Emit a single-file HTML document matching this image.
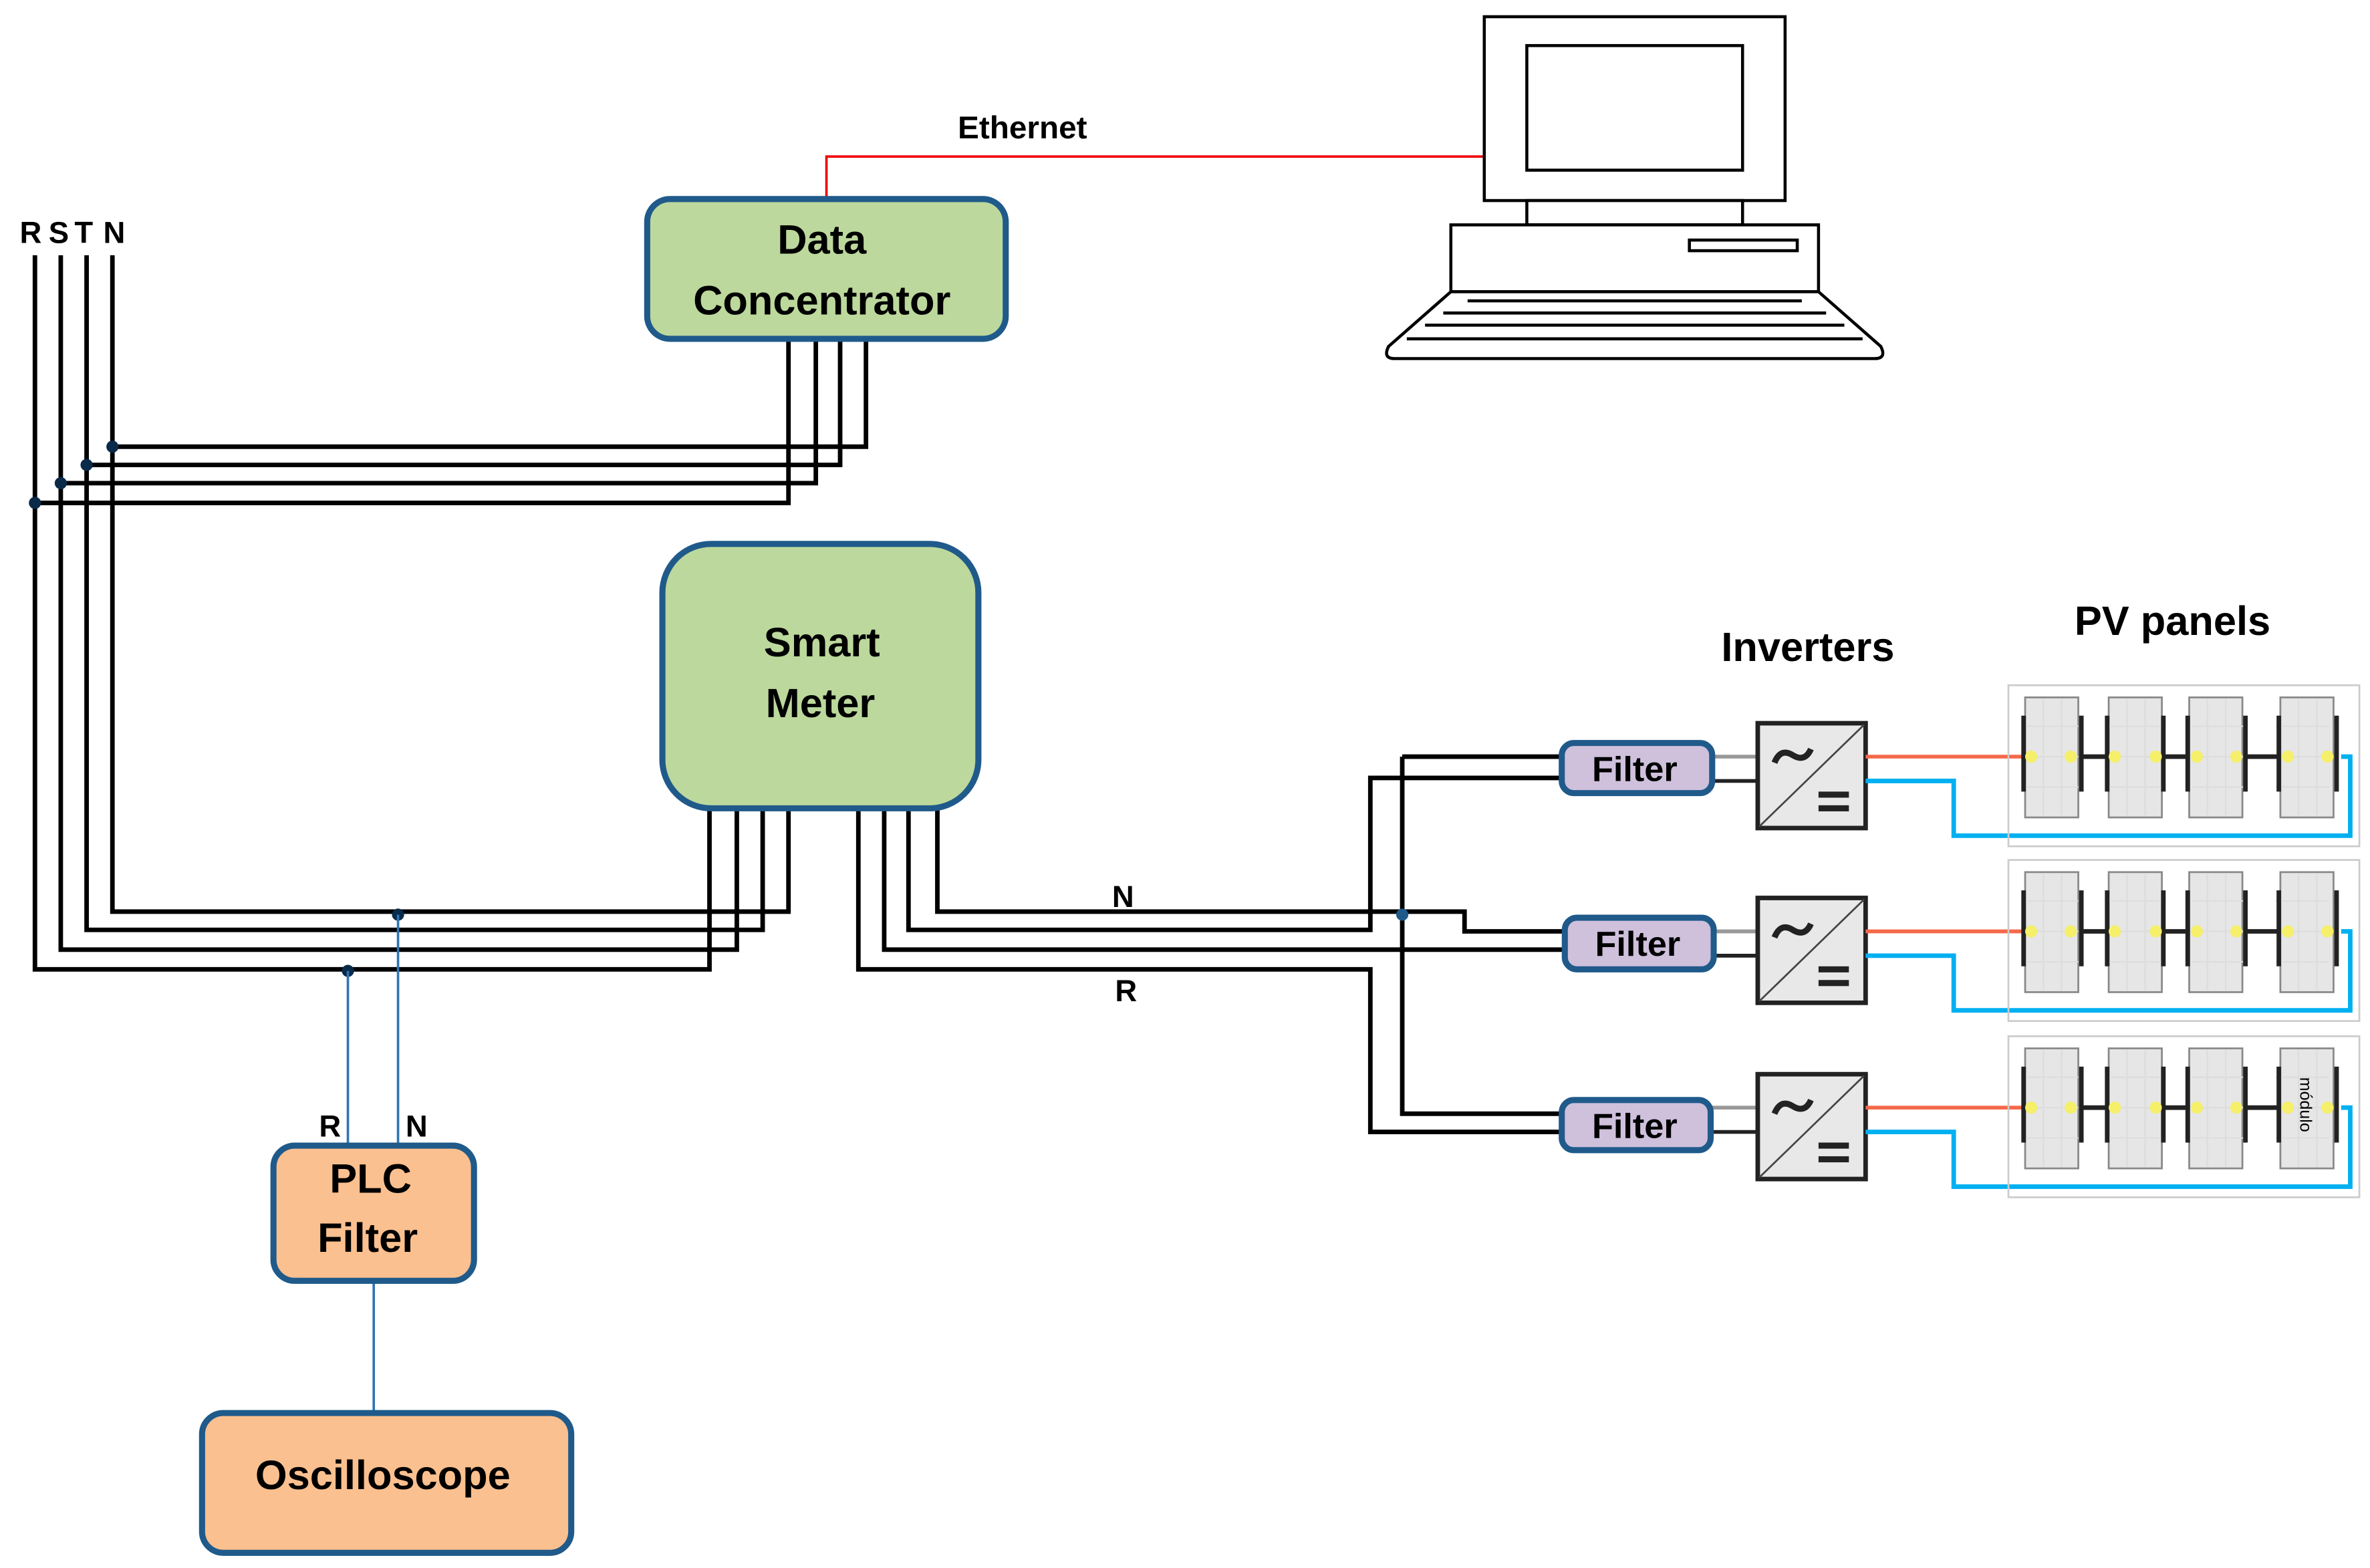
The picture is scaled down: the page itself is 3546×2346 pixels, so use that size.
<!DOCTYPE html>
<html><head><meta charset="utf-8"><style>
html,body{margin:0;padding:0;background:#fff;}
svg{display:block;}
text{font-family:"Liberation Sans",sans-serif;font-weight:bold;fill:#000;}
</style></head><body>
<svg width="3546" height="2346" viewBox="0 0 1560 1032" preserveAspectRatio="none" xmlns="http://www.w3.org/2000/svg">
<rect width="1560" height="1032" fill="#fff"/>
<text x="13" y="160" font-size="20">R</text>
<text x="32" y="160" font-size="20">S</text>
<text x="49" y="160" font-size="20">T</text>
<text x="68" y="160" font-size="20">N</text>
<g stroke="#000" stroke-width="3" fill="none">
<path d="M23 168V638H467V532"/>
<path d="M40 168V625H485V532"/>
<path d="M57 168V612H502V532"/>
<path d="M74 168V600H519V532"/>
<path d="M23 331H519V223"/>
<path d="M40 318H537V223"/>
<path d="M57 306H553V223"/>
<path d="M74 294H570V223"/>
<path d="M617 532V600H964V613H1030"/>
<path d="M598 532V612H902V512H1030"/>
<path d="M582 532V625H1030"/>
<path d="M565 532V638H902V745H1030"/>
<path d="M923 498H1030M923 498V733H1030"/>
</g>
<g fill="#0a2a4a">
<circle cx="23" cy="331" r="4"/><circle cx="40" cy="318" r="4"/><circle cx="57" cy="306" r="4"/><circle cx="74" cy="294" r="4"/>
<circle cx="262" cy="602" r="4"/><circle cx="229" cy="639" r="4"/><circle cx="923" cy="602" r="4" fill="#1f5a8a"/>
</g>
<g stroke="#2e75b6" stroke-width="1.6" fill="none">
<path d="M229 639V754M262 602V754M246 843V930"/>
</g>
<text x="210" y="748" font-size="20">R</text>
<text x="267" y="748" font-size="20">N</text>
<text x="732" y="597" font-size="20">N</text>
<text x="734" y="659" font-size="20">R</text>
<path d="M544 131V103H977" stroke="#e00" stroke-width="1.6" fill="none"/>
<text x="673" y="91" font-size="21" text-anchor="middle">Ethernet</text>
<g stroke="#000" stroke-width="2" fill="#fff">
<rect x="977" y="11" width="198" height="121"/>
<rect x="1005" y="30" width="142" height="82"/>
<rect x="1005" y="132" width="142" height="16"/>
<rect x="955" y="148" width="242" height="44"/>
<rect x="1112" y="158" width="71" height="7"/>
<path d="M955 192H1197L1238 228Q1242 236 1234 236H918Q910 236 914 228Z"/>
<path d="M966 198H1186M950 206H1202M938 214H1214M926 223H1226" fill="none"/>
</g>
<rect x="426" y="131" width="236" height="92" rx="15" fill="#bcd89c" stroke="#1f5a8a" stroke-width="4"/>
<text x="541" y="167" font-size="27" text-anchor="middle">Data</text>
<text x="541" y="207" font-size="27" text-anchor="middle">Concentrator</text>
<rect x="436" y="358" width="208" height="174" rx="32" fill="#bcd89c" stroke="#1f5a8a" stroke-width="4"/>
<text x="541" y="432" font-size="27" text-anchor="middle">Smart</text>
<text x="540" y="472" font-size="27" text-anchor="middle">Meter</text>
<rect x="180" y="754" width="132" height="89" rx="14" fill="#fbc08f" stroke="#1f5a8a" stroke-width="4"/>
<text x="244" y="785" font-size="27" text-anchor="middle">PLC</text>
<text x="242" y="824" font-size="27" text-anchor="middle">Filter</text>
<rect x="133" y="930" width="243" height="92" rx="14" fill="#fbc08f" stroke="#1f5a8a" stroke-width="4"/>
<text x="252" y="980" font-size="27" text-anchor="middle">Oscilloscope</text>
<text x="1190" y="435" font-size="27" text-anchor="middle">Inverters</text>
<text x="1430" y="418" font-size="27" text-anchor="middle">PV panels</text>
<defs>
<g id="row">
<path d="M1127 498H1157" stroke="#999" stroke-width="2.5"/>
<path d="M1127 514H1157" stroke="#222" stroke-width="2.5"/>
<rect x="1157" y="476" width="71" height="69" fill="#e8e8e8" stroke="#222" stroke-width="3"/>
<path d="M1158 544L1227 477" stroke="#444" stroke-width="1.2"/>
<path d="M1168 502Q1172 492 1180 497Q1188 502 1192 493" stroke="#222" stroke-width="4" fill="none"/>
<rect x="1197" y="521" width="20" height="4" fill="#222"/><rect x="1197" y="530" width="20" height="4" fill="#222"/>
<path d="M1228 498H1332" stroke="#f4694a" stroke-width="2.5"/>
<path d="M1228 514H1286V550H1547V498H1541" stroke="#00b0f0" stroke-width="3" fill="none"/>
<rect x="1322" y="451" width="231" height="106" fill="none" stroke="#ccc" stroke-width="1.2"/>
<g fill="#e6e6e6" stroke="#888" stroke-width="1.2">
<rect x="1333" y="459" width="35" height="79"/><rect x="1388" y="459" width="35" height="79"/>
<rect x="1441" y="459" width="35" height="79"/><rect x="1501" y="459" width="35" height="79"/>
</g>
<g stroke="#ddd" stroke-width="1">
<path d="M1345 460V537M1357 460V537M1400 460V537M1412 460V537M1453 460V537M1465 460V537M1513 460V537M1525 460V537"/>
<path d="M1333 478H1536M1333 498H1536M1333 518H1536" stroke-dasharray="35 20"/>
</g>
<g stroke="#222" stroke-width="3">
<path d="M1332 471V521M1370 471V521M1387 471V521M1424 471V521M1440 471V521M1478 471V521M1500 471V521M1538 471V521"/>
<path d="M1370 498H1387M1424 498H1440M1478 498H1500"/>
</g>
<g fill="#f5ef6a"><circle cx="1337" cy="498" r="4"/><circle cx="1363" cy="498" r="4"/><circle cx="1392" cy="498" r="4"/><circle cx="1419" cy="498" r="4"/><circle cx="1446" cy="498" r="4"/><circle cx="1472" cy="498" r="4"/><circle cx="1506" cy="498" r="4"/><circle cx="1532" cy="498" r="4"/></g>
</g>
</defs>
<use href="#row"/>
<use href="#row" transform="translate(0,115)"/>
<use href="#row" transform="translate(0,231)"/>
<text x="0" y="0" font-size="11" fill="#555" transform="translate(1514,709) rotate(90)" style="font-weight:normal">módulo</text>
<g fill="#cfc0dc" stroke="#1f5a8a" stroke-width="4">
<rect x="1028" y="489" width="99" height="33" rx="8"/>
<rect x="1030" y="604" width="98" height="34" rx="8"/>
<rect x="1028" y="724" width="98" height="33" rx="8"/>
</g>
<text x="1076" y="514" font-size="23" text-anchor="middle">Filter</text>
<text x="1078" y="629" font-size="23" text-anchor="middle">Filter</text>
<text x="1076" y="749" font-size="23" text-anchor="middle">Filter</text>
</svg>
</body></html>
